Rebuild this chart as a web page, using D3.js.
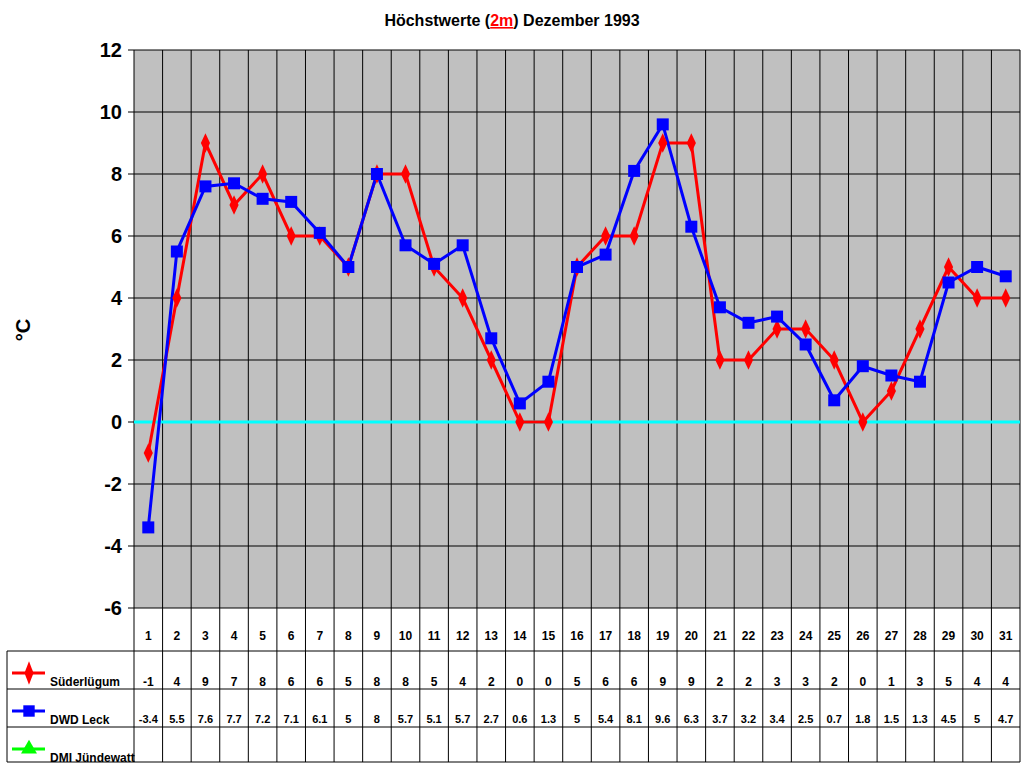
<!DOCTYPE html><html><head><meta charset="utf-8"><script src="https://cdn.jsdelivr.net/npm/d3@7"></script>
<style>body{margin:0;background:#fff}text{font-family:Arial,"Liberation Sans",sans-serif;font-weight:bold}</style></head><body><svg width="1024" height="768"></svg><script>
const days=d3.range(1,32);
const suder=[-1,4,9,7,8,6,6,5,8,8,5,4,2,0,0,5,6,6,9,9,2,2,3,3,2,0,1,3,5,4,4];
const leck=[-3.4,5.5,7.6,7.7,7.2,7.1,6.1,5,8,5.7,5.1,5.7,2.7,0.6,1.3,5,5.4,8.1,9.6,6.3,3.7,3.2,3.4,2.5,0.7,1.8,1.5,1.3,4.5,5,4.7];
const yTicks=[12,10,8,6,4,2,0,-2,-4,-6];
const names=["Süderlügum","DWD Leck","DMI Jündewatt"];
const svg=d3.select("svg");
const L=134,R=1020,T=50,B=608;
const x=d3.scaleBand().domain(days).range([L,R]);
const y=d3.scaleLinear().domain([-6,12]).range([B,T]);
svg.append("rect").attr("x",L).attr("y",T).attr("width",R-L).attr("height",B-T).attr("fill","#c0c0c0");
yTicks.forEach(t=>{svg.append("line").attr("x1",L-6).attr("x2",R).attr("y1",y(t)).attr("y2",y(t)).attr("stroke","#000");
 svg.append("text").attr("x",L-12).attr("y",y(t)+7).attr("text-anchor","end").attr("font-size",20).text(t);});
days.forEach(d=>svg.append("line").attr("x1",x(d)).attr("x2",x(d)).attr("y1",T).attr("y2",762).attr("stroke","#000"));
svg.append("line").attr("x1",R).attr("x2",R).attr("y1",T).attr("y2",762).attr("stroke","#000");
svg.append("line").attr("x1",L).attr("x2",R).attr("y1",y(0)).attr("y2",y(0)).attr("stroke","#00ffff").attr("stroke-width",3);
// table
[651,689,727,762].forEach(yy=>svg.append("line").attr("x1",7).attr("x2",R).attr("y1",yy).attr("y2",yy).attr("stroke","#000"));
svg.append("line").attr("x1",7).attr("x2",7).attr("y1",651).attr("y2",762).attr("stroke","#000");
const cx=d=>x(d)+x.bandwidth()/2;
days.forEach((d,i)=>{
 svg.append("text").attr("x",cx(d)).attr("y",640).attr("text-anchor","middle").attr("font-size",12).text(d);
 svg.append("text").attr("x",cx(d)).attr("y",686).attr("text-anchor","middle").attr("font-size",12).text(suder[i]);
 svg.append("text").attr("x",cx(d)).attr("y",723).attr("text-anchor","middle").attr("font-size",11).text(leck[i]);
});
const cols=["#ff0000","#0000ff","#00ff00"];
[673,711,749].forEach((yy,i)=>{
 svg.append("line").attr("x1",12).attr("x2",45).attr("y1",yy).attr("y2",yy).attr("stroke",cols[i]).attr("stroke-width",3);
 const sym=[d3.symbolDiamond,d3.symbolSquare,d3.symbolTriangle][i];
 svg.append("path").attr("d",d3.symbol(sym,i==1?130:110)()).attr("transform",`translate(29,${yy}) ${i==0?"scale(0.8,1.2)":""}`).attr("fill",cols[i]);
 svg.append("text").attr("x",50).attr("y",yy+13).attr("font-size",12).text(names[i]);
});
const line=d3.line().x((v,i)=>cx(days[i])).y(v=>y(v));
svg.append("path").attr("d",line(suder)).attr("fill","none").attr("stroke","#ff0000").attr("stroke-width",3);
svg.append("path").attr("d",line(leck)).attr("fill","none").attr("stroke","#0000ff").attr("stroke-width",3);
suder.forEach((v,i)=>svg.append("path").attr("d",d3.symbol(d3.symbolDiamond,90)()).attr("transform",`translate(${cx(days[i])},${y(v)}) scale(0.9,1.1)`).attr("fill","#ff0000"));
leck.forEach((v,i)=>svg.append("rect").attr("x",cx(days[i])-6).attr("y",y(v)-6).attr("width",12).attr("height",12).attr("fill","#0000ff"));
const t=svg.append("text").attr("x",512).attr("y",26).attr("text-anchor","middle").attr("font-size",16);
t.append("tspan").text("Höchstwerte (");
t.append("tspan").attr("fill","#ff0000").attr("text-decoration","underline").text("2m");
t.append("tspan").text(") Dezember 1993");
svg.append("text").attr("transform","translate(30,330) rotate(-90)").attr("text-anchor","middle").attr("font-size",20).text("°C");
</script></body></html>
